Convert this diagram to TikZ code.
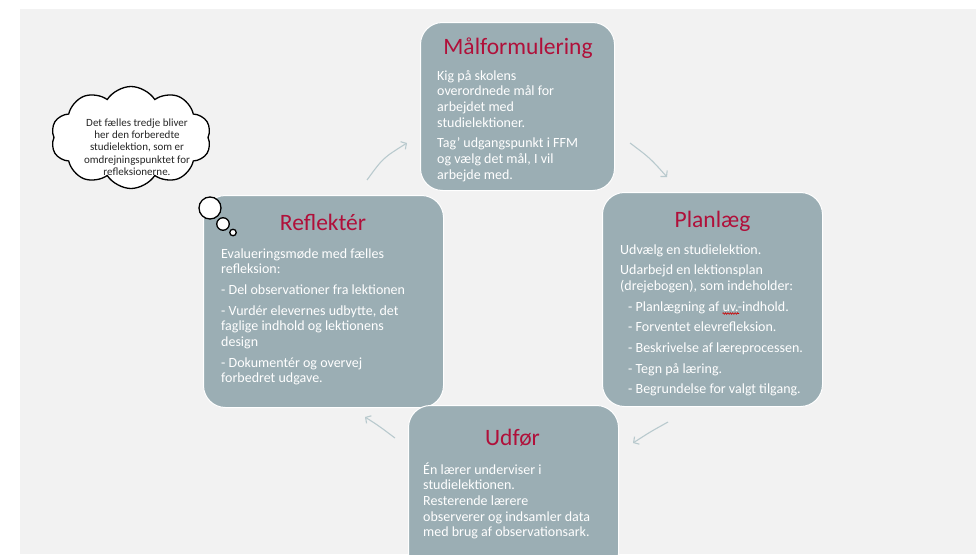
\documentclass[tikz,border=0pt]{standalone}
\usepackage{fontspec}
\setmainfont{Carlito}
\usetikzlibrary{shapes.symbols,arrows.meta,decorations.pathmorphing}
\definecolor{boxfill}{HTML}{9BAEB4}
\definecolor{titlered}{HTML}{B0103A}
\definecolor{bgc}{HTML}{F2F2F2}
\definecolor{arrowc}{HTML}{B9CACE}
\definecolor{cloudtext}{HTML}{262626}
\newcommand\cardtext[2]{\begin{minipage}[t]{#1}\fontsize{14}{15.7}\selectfont\raggedright\setlength\parindent{0pt}\setlength\parskip{5pt}#2\end{minipage}}
\newcommand\ind{\hspace*{8pt}}
\begin{document}
\begin{tikzpicture}[x=1pt,y=-1pt,
  card/.style={draw=white, line width=1pt, fill=boxfill, rounded corners=22pt, inner sep=0, anchor=north west},
  cardtitle/.style={text=titlered, font=\fontsize{23.5}{28}\selectfont, inner sep=0, anchor=base},
  body/.style={text=white, inner sep=0, anchor=base west},
  flow/.style={draw=arrowc, line width=1.1pt, -{Straight Barb[length=4pt,width=9pt]}},
  bubble/.style={circle, draw=black, fill=white, line width=1.3pt, inner sep=0},
  thought/.style={cloud, cloud puffs=10, cloud puff arc=115, aspect=1.8, draw=black, fill=white, line width=1.3pt, inner sep=0, minimum width=160, minimum height=102},
  squiggle/.style={draw=red!80!black, line width=0.6pt, decorate, decoration={zigzag, amplitude=0.8pt, segment length=2.4pt}}
]
\clip (0,0) rectangle (976,554);
\useasboundingbox (0,0) rectangle (976,554);
\fill[white] (0,0) rectangle (976,554);
\fill[bgc] (20,9) rectangle (976,554);

% cards
\node[card, minimum width=194, minimum height=168] (goal) at (420,22) {};
\node[card, minimum width=220, minimum height=214] (plan) at (602,192) {};
\node[card, minimum width=240, minimum height=212] (refl) at (203,195) {};
\node[card, minimum width=210, minimum height=170] (exec) at (408,405) {};

% titles
\node[cardtitle] (goalT) at (518,54) {Målformulering};
\node[cardtitle] (planT) at (712.5,227.7) {Planlæg};
\node[cardtitle] (execT) at (512.5,445) {Udfør};
\node[cardtitle] (reflT) at (323,230.7) {Reflektér};

% bodies
\node[body] (goalB) at (437,80) {\cardtext{180pt}{Kig på skolens\\overordnede mål for\\arbejdet med\\studielektioner.\par Tag’ udgangspunkt i FFM\\og vælg det mål, I vil\\arbejde med.}};
\node[body] (planB) at (620,254) {\cardtext{200pt}{Udvælg en studielektion.\par Udarbejd en lektionsplan\\(drejebogen), som indeholder:\par \ind- Planlægning af uv.-indhold.\par \ind- Forventet elevrefleksion.\par \ind- Beskrivelse af læreprocessen.\par \ind- Tegn på læring.\par \ind- Begrundelse for valgt tilgang.}};
\node[body] (execB) at (423,474) {\cardtext{200pt}{Én lærer underviser i\\studielektionen.\\Resterende lærere\\observerer og indsamler data\\med brug af observationsark.}};
\node[body] (reflB) at (221,258) {\cardtext{220pt}{Evalueringsmøde med fælles\\refleksion:\par - Del observationer fra lektionen\par - Vurdér elevernes udbytte, det\\faglige indhold og lektionens\\design\par - Dokumentér og overvej\\forbedret udgave.}};

\draw[squiggle] (722.5,313.5) -- (739,313.5);

% thought cloud
\node[thought] (cloudN) at (131,137.5) {};
\node[text=cloudtext, font=\fontsize{11}{12.3}\selectfont, align=center, inner sep=0] (cloudT) at (137,147) {Det fælles tredje bliver\\her den forberedte\\studielektion, som er\\omdrejningspunktet for\\refleksionerne.};
\node[bubble, minimum size=22] (b1) at (210,208) {};
\node[bubble, minimum size=12.5] (b2) at (223,224) {};
\node[bubble, minimum size=6.5] (b3) at (233,232.5) {};

% arrows
\coordinate (a1s) at (367,180); \coordinate (a1e) at (407,143);
\coordinate (a2s) at (630,143); \coordinate (a2e) at (667,177);
\coordinate (a3s) at (668,422); \coordinate (a3e) at (633,443);
\coordinate (a4s) at (395,438); \coordinate (a4e) at (365,417);
\draw[flow] (a1s) .. controls (383,158) .. (a1e);
\draw[flow] (a2s) .. controls (650,158) .. (a2e);
\draw[flow] (a3s) .. controls (650,432) .. (a3e);
\draw[flow] (a4s) .. controls (379,426) .. (a4e);
\end{tikzpicture}
\end{document}
